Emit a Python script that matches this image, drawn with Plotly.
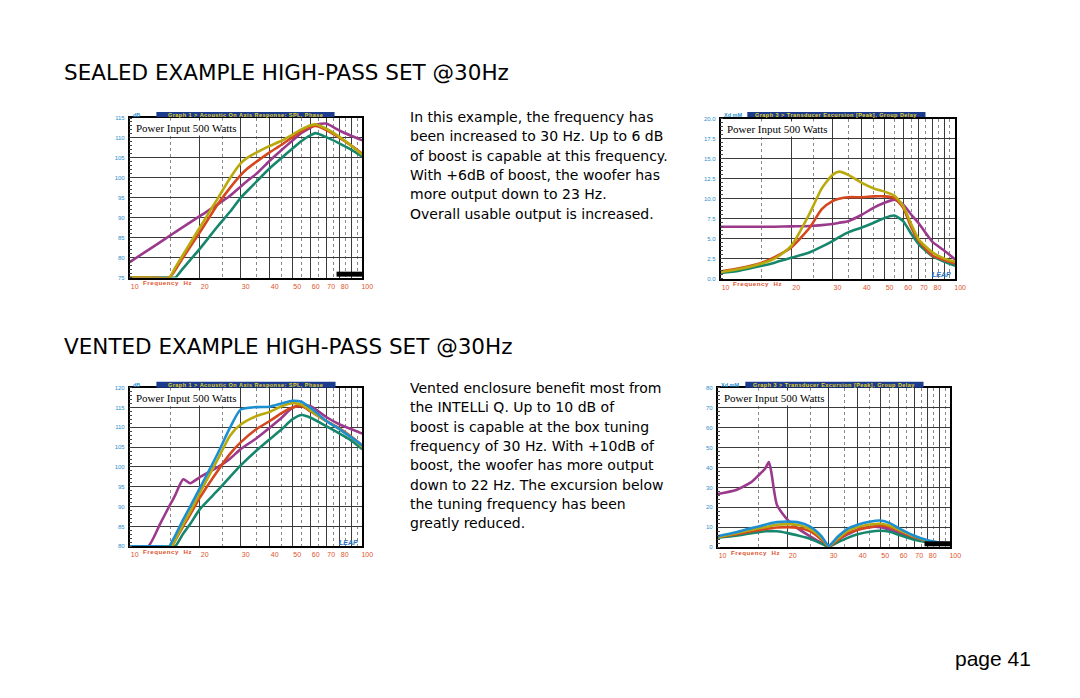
import plotly.graph_objects as go

W, H = 1080, 698

PURPLE = "#9b3a8c"
YELLOW = "#b9a90c"
RED = "#d4471f"
TEAL = "#16876c"
BLUE = "#1d8fd1"
ORANGE = "#e0522a"
TICKBLUE = "#2a8fd0"

# ---------------- data ----------------
x_tick_vals = [10, 20, 30, 40, 50, 60, 70, 80, 90, 100]
x_tick_text = ["10", "20", "30", "40", "50", "60", "70", "80", "", "100"]
x_minor_vals = [15, 25, 35, 45, 55, 65, 75, 85, 95]

sealed_spl_freq = [10, 12, 14.8, 15.7, 17, 20, 24, 27, 30, 32, 35, 40, 45, 50, 55, 60, 63, 70, 80, 90, 100]
sealed_spl_purple = [78.9, 81.9, 85.4, 86.4, 87.7, 90.4, 93.4, 95.5, 97.8, 99.2, 101.0, 104.3, 107.0, 109.3, 111.3, 112.6, 113.3, 113.6, 111.8, 110.5, 109.4]
sealed_spl_teal = [75, 75, 75, 75, 77.4, 82.2, 88.0, 91.5, 95.0, 96.7, 99.0, 102.4, 105.0, 107.3, 109.3, 110.7, 111.2, 110.2, 108.6, 107.0, 105.3]
sealed_spl_red = [75, 75, 75, 76.9, 80.1, 86.3, 93.5, 97.5, 100.7, 102.3, 104.0, 106.4, 108.3, 110.2, 111.8, 112.8, 113.0, 112.0, 110.0, 108.0, 106.0]
sealed_spl_yellow = [75, 75, 75, 77.5, 80.8, 87.5, 95.0, 99.9, 103.6, 105.0, 106.3, 108.0, 109.3, 110.8, 112.2, 113.2, 113.4, 112.3, 110.2, 108.0, 105.8]

sealed_exc_freq = [10, 12, 15, 17, 20, 24, 27, 30, 32, 35, 40, 45, 50, 55, 60, 65, 70, 80, 90, 100]
sealed_exc_purple = [6.5, 6.5, 6.5, 6.5, 6.55, 6.6, 6.7, 6.85, 7.0, 7.2, 8.0, 8.9, 9.5, 9.9, 9.3, 8.0, 6.9, 4.6, 3.5, 2.4]
sealed_exc_teal = [0.7, 1.0, 1.6, 2.0, 2.6, 3.3, 4.0, 4.7, 5.2, 5.8, 6.4, 7.0, 7.6, 7.9, 7.2, 5.6, 4.3, 2.8, 2.1, 1.6]
sealed_exc_red = [0.9, 1.3, 2.0, 2.7, 3.9, 6.4, 8.7, 9.7, 10.0, 10.2, 10.2, 10.3, 10.3, 10.1, 8.9, 6.4, 4.7, 2.9, 2.3, 1.9]
sealed_exc_yellow = [0.8, 1.2, 1.9, 2.5, 4.1, 8.2, 11.3, 13.0, 13.4, 13.0, 12.0, 11.3, 10.9, 10.4, 9.1, 6.8, 4.9, 3.3, 2.5, 2.1]

vented_spl_freq = [10, 12, 13.5, 14.8, 15.2, 15.7, 17, 18.2, 20, 24, 27, 30, 35, 40, 45, 50, 55, 60, 70, 80, 90, 100]
vented_spl_purple = [80, 80, 85.6, 90.1, 91.3, 92.9, 96.9, 95.9, 97.4, 100.0, 102.1, 104.5, 107.2, 109.9, 112.4, 114.9, 115.5, 115.3, 112.6, 110.7, 109.5, 108.4]
vented_spl_teal = [80, 80, 80, 80, 80, 80, 83.2, 85.6, 89.3, 94.2, 97.5, 100.4, 104.1, 107.0, 109.5, 112.0, 113.1, 112.4, 110.3, 108.4, 106.6, 104.5]
vented_spl_red = [80, 80, 80, 80, 80, 81.5, 85.1, 88.0, 92.2, 99.2, 103.3, 106.2, 109.5, 111.6, 113.6, 115.0, 115.3, 114.0, 111.6, 109.7, 107.6, 105.4]
vented_spl_yellow = [80, 80, 80, 80, 80, 81.6, 85.6, 88.7, 93.4, 102.1, 107.9, 110.7, 112.8, 113.9, 115.3, 116.1, 115.7, 114.2, 111.6, 109.5, 107.4, 105.1]
vented_spl_blue = [80, 80, 80, 80, 81.2, 82.7, 86.8, 90.0, 94.6, 103.6, 109.9, 114.5, 115.1, 115.2, 116.0, 116.7, 116.4, 114.9, 111.6, 109.5, 107.4, 105.4]

vented_exc_freq = [10, 12, 14, 15, 16, 16.6, 17, 18, 20, 22, 25, 28, 30, 33, 36, 40, 45, 50, 55, 60, 70, 80, 90, 100]
vented_exc_purple = [26.7, 28.7, 32.8, 36.1, 39.4, 42.7, 38.0, 21.2, 13.7, 9.6, 5.5, 2.2, 0.8, 3.8, 6.3, 8.8, 10.1, 10.1, 8.8, 7.1, 4.6, 3.0, 2.5, 2.2]
vented_exc_teal = [4.8, 5.8, 7.1, 7.6, 8.0, 8.1, 8.1, 8.0, 7.1, 6.0, 4.3, 1.8, 0.3, 2.6, 4.6, 6.5, 7.8, 8.3, 7.8, 6.3, 3.8, 2.5, 1.8, 1.3]
vented_exc_red = [5.0, 6.5, 8.0, 8.6, 9.1, 9.4, 9.6, 9.9, 10.1, 9.8, 8.0, 3.8, 0.5, 3.8, 6.8, 8.8, 10.1, 10.8, 10.1, 8.3, 5.1, 3.1, 2.0, 1.3]
vented_exc_yellow = [5.1, 7.1, 8.8, 9.6, 10.1, 10.4, 10.8, 11.3, 11.6, 11.3, 9.1, 4.6, 0.7, 4.6, 8.0, 10.1, 11.4, 11.8, 10.8, 8.8, 5.5, 3.3, 2.2, 1.5]
vented_exc_blue = [5.5, 7.5, 9.6, 10.4, 11.3, 11.8, 12.1, 12.6, 12.9, 12.6, 10.4, 5.5, 0.8, 5.5, 9.1, 11.3, 12.8, 13.4, 12.1, 9.6, 5.8, 3.5, 2.2, 1.5]

sealed_text = [
    "In this example, the frequency has",
    "been increased to 30 Hz. Up to 6 dB",
    "of boost is capable at this frequency.",
    "With +6dB of boost, the woofer has",
    "more output down to 23 Hz.",
    "Overall usable output is increased.",
]
vented_text = [
    "Vented enclosure benefit most from",
    "the INTELLi Q. Up to 10 dB of",
    "boost is capable at the box tuning",
    "frequency of 30 Hz. With +10dB of",
    "boost, the woofer has more output",
    "down to 22 Hz. The excursion below",
    "the tuning frequency has been",
    "greatly reduced.",
]


def px(x):
    return x / W


def py(y):
    return 1 - y / H


def spaced(s):
    out = []
    for ch in s:
        out.append("\u00a0" if ch == " " else ch)
    return "\u200a".join(out)


panels = [
    dict(n=1, box=(131, 366, 116, 277), yr=[75, 115], yt=list(range(75, 116, 5)), ym=1, fmt="d",
         unit="dB", title="Graph 1 > Acoustic On Axis Response: SPL, Phase", bar=(158, 338, 110, 115),
         series=[(sealed_spl_freq, sealed_spl_purple, PURPLE), (sealed_spl_freq, sealed_spl_teal, TEAL),
                 (sealed_spl_freq, sealed_spl_red, RED), (sealed_spl_freq, sealed_spl_yellow, YELLOW)],
         logo="block"),
    dict(n=2, box=(728, 965, 117, 278), yr=[0, 20], yt=[i * 2.5 for i in range(9)], ym=0.5, fmt=".1f",
         unit="Xd mM", title="Graph 3 > Transducer Excursion [Peak], Group Delay", bar=(755, 935, 110, 115),
         series=[(sealed_exc_freq, sealed_exc_purple, PURPLE), (sealed_exc_freq, sealed_exc_teal, TEAL),
                 (sealed_exc_freq, sealed_exc_red, RED), (sealed_exc_freq, sealed_exc_yellow, YELLOW)],
         logo="leap"),
    dict(n=3, box=(131, 366, 388, 548), yr=[80, 120], yt=list(range(80, 121, 5)), ym=1, fmt="d",
         unit="dB", title="Graph 1 > Acoustic On Axis Response: SPL, Phase", bar=(158, 339, 382, 388),
         series=[(vented_spl_freq, vented_spl_purple, PURPLE), (vented_spl_freq, vented_spl_teal, TEAL),
                 (vented_spl_freq, vented_spl_red, RED), (vented_spl_freq, vented_spl_yellow, YELLOW),
                 (vented_spl_freq, vented_spl_blue, BLUE)],
         logo="leap"),
    dict(n=4, box=(725, 960, 388, 549), yr=[0, 80], yt=list(range(0, 81, 10)), ym=2, fmt="d",
         unit="Xd mM", title="Graph 3 > Transducer Excursion [Peak], Group Delay", bar=(753, 933, 382, 388),
         series=[(vented_exc_freq, vented_exc_purple, PURPLE), (vented_exc_freq, vented_exc_teal, TEAL),
                 (vented_exc_freq, vented_exc_red, RED), (vented_exc_freq, vented_exc_yellow, YELLOW),
                 (vented_exc_freq, vented_exc_blue, BLUE)],
         logo="block"),
]

fig = go.Figure()
shapes = []
annotations = []
layout_axes = {}

for p in panels:
    n = p["n"]
    xs = "" if n == 1 else str(n)
    l, r, t, b = p["box"]
    for fx, fy, col in p["series"]:
        fig.add_trace(go.Scatter(x=fx, y=fy, mode="lines", xaxis="x" + xs, yaxis="y" + xs,
                                 line=dict(color=col, width=2.6, shape="spline", smoothing=0.6),
                                 showlegend=False, hoverinfo="skip"))
    layout_axes["xaxis" + xs] = dict(
        type="log", range=[1, 2], domain=[px(l), px(r)], anchor="y" + xs,
        tickmode="array", tickvals=x_tick_vals, ticktext=x_tick_text,
        showgrid=True, gridcolor="#3a3a3a", gridwidth=1.4,
        showline=True, linecolor="black", linewidth=1.5, mirror=True,
        ticks="", tickfont=dict(family="Arial", size=7, color=ORANGE),
        ticklabelshift=5, ticklabelstandoff=1,
        minor=dict(tickmode="array", tickvals=x_minor_vals, showgrid=True,
                   gridcolor="#8a8a8a", griddash="dot", gridwidth=1, ticks=""),
        zeroline=False, fixedrange=True,
    )
    layout_axes["yaxis" + xs] = dict(
        range=p["yr"], domain=[py(b), py(t)], anchor="x" + xs,
        tickmode="array", tickvals=p["yt"], tickformat=p["fmt"],
        showgrid=True, gridcolor="#3a3a3a", gridwidth=1.4,
        showline=True, linecolor="black", linewidth=1.5, mirror=True,
        ticks="", tickfont=dict(family="Arial", size=6, color=TICKBLUE),
        ticklabelstandoff=2,
        minor=dict(tickmode="linear", tick0=p["yr"][0], dtick=p["ym"], ticks="inside",
                   ticklen=3, tickcolor="#444", showgrid=False),
        zeroline=False, fixedrange=True,
    )
    bl, br, bt, bb = p["bar"]
    shapes.append(dict(type="rect", xref="paper", yref="paper", x0=px(bl), x1=px(br),
                       y0=py(bb), y1=py(bt), fillcolor="#1b3c8c", line=dict(width=0), layer="above"))
    annotations.append(dict(xref="paper", yref="paper", x=px((bl + br) / 2), y=py((bt + bb) / 2),
                            text="<b>" + spaced(p["title"]) + "</b>", showarrow=False,
                            font=dict(family="Arial", size=5.5, color="#e8d21e"),
                            xanchor="center", yanchor="middle"))
    annotations.append(dict(xref="paper", yref="paper", x=px(l + 1), y=py(bb - 2.5),
                            text="<b>" + p["unit"] + "</b>", showarrow=False,
                            font=dict(family="Arial", size=5.5, color=TICKBLUE),
                            xanchor="left", yanchor="middle"))
    annotations.append(dict(xref="paper", yref="paper", x=px(l + 57), y=py(t + 10),
                            text="Power Input 500 Watts", showarrow=False,
                            font=dict(family="Liberation Serif", size=11, color="black"),
                            bgcolor="white", xanchor="center", yanchor="middle", borderpad=1))
    annotations.append(dict(xref="paper", yref="paper", x=px(l + 11), y=py(b + 5),
                            text="<b>" + spaced("Frequency  Hz") + "</b>", showarrow=False,
                            font=dict(family="Arial", size=6.2, color=ORANGE),
                            xanchor="left", yanchor="middle"))
    if p["logo"] == "block":
        shapes.append(dict(type="rect", xref="paper", yref="paper", x0=px(r - 26), x1=px(r),
                           y0=py(b - 1), y1=py(b - 6), fillcolor="black", line=dict(width=0), layer="above"))
    else:
        annotations.append(dict(xref="paper", yref="paper", x=px(r - 2), y=py(b - 4),
                                text="<i><b>LEAP</b></i>", showarrow=False,
                                font=dict(family="Arial", size=7, color="#2a6fc0"),
                                xanchor="right", yanchor="middle"))

annotations.append(dict(xref="paper", yref="paper", x=px(63), y=py(70),
                        text="SEALED EXAMPLE HIGH-PASS SET @30Hz", showarrow=False,
                        font=dict(family="DejaVu Sans", size=21.5, color="black"),
                        xanchor="left", yanchor="middle"))
annotations.append(dict(xref="paper", yref="paper", x=px(63), y=py(346),
                        text="VENTED EXAMPLE HIGH-PASS SET @30Hz", showarrow=False,
                        font=dict(family="DejaVu Sans", size=21.5, color="black"),
                        xanchor="left", yanchor="middle"))

for i, line in enumerate(sealed_text):
    annotations.append(dict(xref="paper", yref="paper", x=px(412), y=py(115 + i * 19.5),
                            text=line, showarrow=False,
                            font=dict(family="DejaVu Sans", size=14, color="black"),
                            xanchor="left", yanchor="middle"))
for i, line in enumerate(vented_text):
    annotations.append(dict(xref="paper", yref="paper", x=px(412), y=py(388.5 + i * 19.5),
                            text=line, showarrow=False,
                            font=dict(family="DejaVu Sans", size=14, color="black"),
                            xanchor="left", yanchor="middle"))

annotations.append(dict(xref="paper", yref="paper", x=px(1044), y=py(661),
                        text="page 41", showarrow=False,
                        font=dict(family="Liberation Sans", size=21, color="black"),
                        xanchor="right", yanchor="middle"))

fig.update_layout(
    width=W, height=H,
    margin=dict(l=0, r=0, t=0, b=0),
    paper_bgcolor="white", plot_bgcolor="white",
    showlegend=False,
    shapes=shapes, annotations=annotations,
    **layout_axes,
)

fig.write_html("out.html", config={"displayModeBar": False},
               post_script="document.body.style.margin='0';document.body.style.overflow='hidden';")
